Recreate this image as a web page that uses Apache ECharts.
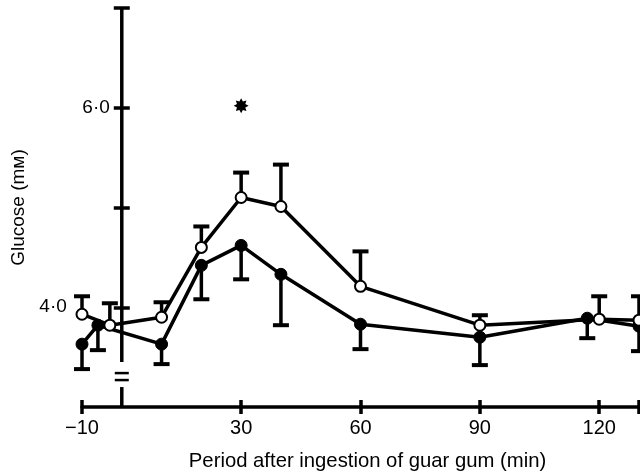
<!DOCTYPE html>
<html><head><meta charset="utf-8">
<script src="https://cdn.jsdelivr.net/npm/echarts@6/dist/echarts.min.js"></script>
<style>html,body{margin:0;padding:0;background:#fff}#c{width:640px;height:475px}</style>
</head><body><div id="c"></div>
<script>
// ---- data ----
const xTickValues = [-10, 30, 60, 90, 120, 130];
const xLabelValues = [-10, 30, 60, 90, 120];
const yTickValues = [4, 5, 6, 7];
const yLabelValues = [4, 6];

// open circles (upper SEM bars)
const openTimes = [-10, -3, 10, 20, 30, 40, 60, 90, 120, 130];
const openMeans = [3.93, 3.82, 3.90, 4.60, 5.10, 5.01, 4.21, 3.82, 3.88, 3.87];
const openUpper = [4.11, 4.04, 4.05, 4.81, 5.35, 5.43, 4.56, 3.92, 4.11, 4.11];

// filled circles (lower SEM bars)
const filledTimes = [-10, -6, 10, 20, 30, 40, 60, 90, 117, 130];
const filledMeans = [3.63, 3.82, 3.63, 4.42, 4.62, 4.33, 3.83, 3.70, 3.89, 3.81];
const filledLower = [3.38, 3.57, 3.43, 4.08, 4.28, 3.82, 3.58, 3.42, 3.69, 3.56];

// significance marker
const sigTimes = [30];
const sigValues = [6.02];

// axis extents and y-axis break
const xMin = -10, xMax = 130, yAxisAtX = 0;
const yMin = 3, yMax = 7;
const yBreakLow = 3.2, yBreakHigh = 3.45, yBreakMarks = [3.27, 3.34];

// ---- build ----
const INK = '#000';
const FONT = '"Liberation Sans", Arial, Helvetica, sans-serif';
const W = 640, GRID_LEFT = 82, GRID_RIGHT = 1;
const gridWidth = W - GRID_LEFT - GRID_RIGHT;
// move the y axis from the grid's left edge to x = 0 of the time axis
const yOffset = -gridWidth * (yAxisAtX - xMin) / (xMax - xMin);

function zip(a, b, c) { return a.map((v, i) => c ? [v, b[i], c[i]] : [v, b[i]]); }

function starPath(n, r1, r2) {
  let d = '';
  for (let i = 0; i < 2 * n; i++) {
    const r = i % 2 ? r2 : r1;
    const a = Math.PI * i / n - Math.PI / 2;
    d += (i ? 'L' : 'M') + (50 + r * Math.cos(a)).toFixed(2) + ' ' + (50 + r * Math.sin(a)).toFixed(2);
  }
  return 'path://' + d + 'Z';
}

function errRender(params, api) {
  const p = api.coord([api.value(0), api.value(1)]);
  const e = api.coord([api.value(0), api.value(2)]);
  const h = 8;
  return {
    type: 'group',
    children: [
      { type: 'line', shape: { x1: p[0], y1: p[1], x2: e[0], y2: e[1] }, style: { stroke: INK, lineWidth: 3.5 } },
      { type: 'line', shape: { x1: e[0] - h, y1: e[1], x2: e[0] + h, y2: e[1] }, style: { stroke: INK, lineWidth: 4 } }
    ]
  };
}

function yAxisLineRender(params, api) {
  const x = api.value(0);
  const a = api.coord([x, yMin]), b = api.coord([x, yBreakLow]);
  const c = api.coord([x, yBreakHigh]), d = api.coord([x, yMax]);
  const children = [
    { type: 'line', shape: { x1: a[0], y1: a[1], x2: b[0], y2: b[1] }, style: { stroke: INK, lineWidth: 3.5 } },
    { type: 'line', shape: { x1: c[0], y1: c[1], x2: d[0], y2: d[1] }, style: { stroke: INK, lineWidth: 3.5 } }
  ];
  yBreakMarks.forEach(v => {
    const m = api.coord([x, v]);
    children.push({ type: 'line', shape: { x1: m[0] - 7, y1: m[1], x2: m[0] + 7, y2: m[1] }, style: { stroke: INK, lineWidth: 2.5 } });
  });
  return { type: 'group', children };
}

const chart = echarts.init(document.getElementById('c'), null, { renderer: 'canvas' });

const xCommon = { type: 'value', min: xMin, max: xMax, splitLine: { show: false } };
const yCommon = { type: 'value', min: yMin, max: yMax, splitLine: { show: false }, position: 'left', offset: yOffset };

chart.setOption({
  backgroundColor: '#fff',
  animation: false,
  textStyle: { fontFamily: FONT },
  grid: { left: GRID_LEFT, right: GRID_RIGHT, top: 8, bottom: 68, containLabel: false, outerBoundsMode: 'none' },
  xAxis: [
    Object.assign({}, xCommon, {
      position: 'bottom',
      axisLine: { show: true, onZero: false, lineStyle: { color: INK, width: 3.5 } },
      axisTick: { show: true, customValues: xTickValues, length: 7, lineStyle: { color: INK, width: 3.5 } },
      axisLabel: {
        customValues: xLabelValues, margin: 11, fontSize: 20, color: INK, fontFamily: FONT,
        formatter: v => v < 0 ? '\u2212' + Math.abs(v) : String(v)
      },
      name: 'Period after ingestion of guar gum (min)',
      nameLocation: 'middle', nameGap: 44,
      nameTextStyle: { fontSize: 20.3, color: INK, fontFamily: FONT, padding: [0, 0, 0, 14] }
    }),
    Object.assign({}, xCommon, {
      position: 'bottom',
      axisLine: { show: false, onZero: false },
      axisTick: { show: true, inside: true, customValues: xTickValues, length: 7, lineStyle: { color: INK, width: 3.5 } },
      axisLabel: { show: false }
    })
  ],
  yAxis: [
    Object.assign({}, yCommon, {
      axisLine: { show: false, onZero: false },
      axisTick: { show: true, customValues: yTickValues, length: 8, lineStyle: { color: INK, width: 3.5 } },
      axisLabel: {
        customValues: yLabelValues, margin: 12, fontSize: 19, color: INK, fontFamily: FONT,
        formatter: v => v === 4 ? '{far|4\u00b70}' : '{n|' + v.toFixed(0) + '\u00b70}',
        rich: {
          far: { fontSize: 19, color: INK, fontFamily: FONT, padding: [0, 43, 0, 0] },
          n: { fontSize: 19, color: INK, fontFamily: FONT }
        }
      },
      name: 'Glucose (m\u043c)',
      nameLocation: 'middle', nameRotate: 90, nameGap: 93,
      nameTextStyle: { fontSize: 19, color: INK, fontFamily: FONT }
    }),
    Object.assign({}, yCommon, {
      axisLine: { show: false, onZero: false },
      axisTick: { show: true, inside: true, customValues: yTickValues, length: 8, lineStyle: { color: INK, width: 3.5 } },
      axisLabel: { show: false }
    })
  ],
  series: [
    {
      type: 'custom', name: 'yAxisLine', renderItem: yAxisLineRender, silent: true, z: 1,
      data: [[yAxisAtX, yMin, yMax]], encode: { x: 0, y: [1, 2] }, clip: false
    },
    {
      type: 'custom', name: 'openErr', renderItem: errRender, z: 2, clip: false,
      data: zip(openTimes, openMeans, openUpper), encode: { x: 0, y: [1, 2] }
    },
    {
      type: 'custom', name: 'filledErr', renderItem: errRender, z: 2, clip: false,
      data: zip(filledTimes, filledMeans, filledLower), encode: { x: 0, y: [1, 2] }
    },
    {
      type: 'line', name: 'filled', z: 3, clip: false,
      data: zip(filledTimes, filledMeans),
      symbol: 'circle', symbolSize: 12, showAllSymbol: true,
      lineStyle: { color: INK, width: 3.5 },
      itemStyle: { color: INK, borderColor: INK, borderWidth: 1 }
    },
    {
      type: 'line', name: 'open', z: 4, clip: false,
      data: zip(openTimes, openMeans),
      symbol: 'circle', symbolSize: 11, showAllSymbol: true,
      lineStyle: { color: INK, width: 3.5 },
      itemStyle: { color: '#fff', borderColor: INK, borderWidth: 2 }
    },
    {
      type: 'scatter', name: 'sig', z: 5,
      data: zip(sigTimes, sigValues),
      symbol: starPath(8, 50, 30), symbolSize: 15,
      itemStyle: { color: INK, opacity: 1 }
    }
  ]
});
</script>
</body></html>
